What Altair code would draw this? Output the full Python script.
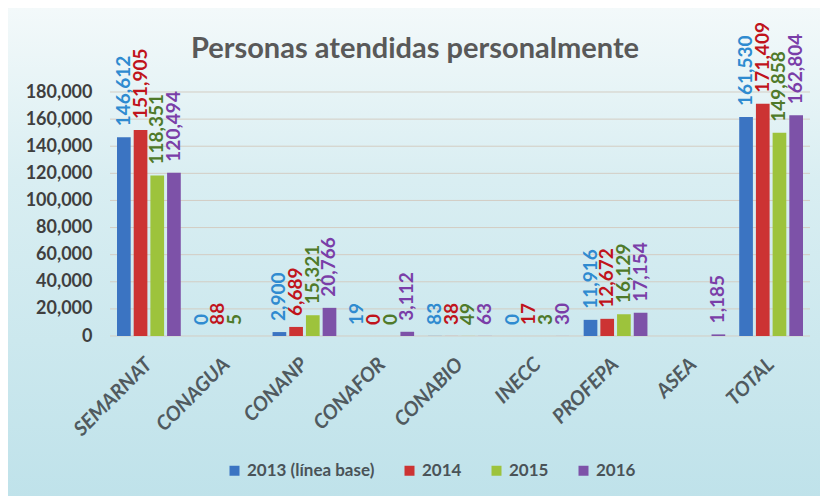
import altair as alt
import pandas as pd

categories = ["SEMARNAT", "CONAGUA", "CONANP", "CONAFOR", "CONABIO", "INECC", "PROFEPA", "ASEA", "TOTAL"]
series = ["2013 (línea base)", "2014", "2015", "2016"]
v2013 = [146612, 0, 2900, 19, 83, 0, 11916, None, 161530]
v2014 = [151905, 88, 6689, 0, 38, 17, 12672, None, 171409]
v2015 = [118351, 5, 15321, 0, 49, 3, 16129, None, 149858]
v2016 = [120494, None, 20766, 3112, 63, 30, 17154, 1185, 162804]
y_ticks = [0, 20000, 40000, 60000, 80000, 100000, 120000, 140000, 160000, 180000]

bar_colors = ["#3b74c2", "#cc3333", "#9dc33c", "#7d52a8"]
label_colors = ["#2f8bd0", "#c0141c", "#4f7a2a", "#7a3ea8"]

rows = []
for s, vals in zip(series, [v2013, v2014, v2015, v2016]):
    for c, v in zip(categories, vals):
        if v is not None:
            rows.append({"cat": c, "serie": s, "valor": v})
df = pd.DataFrame(rows)
grid_df = pd.DataFrame({"valor": y_ticks})

W, H = 700, 244
FONT = "Lato"

x = alt.X("cat:N", sort=categories, title=None,
          scale=alt.Scale(paddingInner=0.18, paddingOuter=0.09),
          axis=alt.Axis(labelAngle=-45, labelAlign="right", labelBaseline="middle",
                        labelFontSize=20, labelFontStyle="italic", labelFontWeight="bold",
                        labelColor="#505a5f", labelFont=FONT, domain=False, ticks=False,
                        labelPadding=25, zindex=1))
xo = alt.XOffset("serie:N", sort=series, scale=alt.Scale(paddingInner=0.18))
yscale = alt.Scale(domain=[0, 180000], nice=False)
yaxis = alt.Axis(values=y_ticks, format=",.0f", grid=False,
                 labelFontSize=18, labelFontWeight="bold", labelColor="#3f3f3f",
                 labelFont=FONT, domain=False, ticks=False, labelPadding=18,
                 zindex=1)
y = alt.Y("valor:Q", title=None, scale=yscale, axis=yaxis)

bg = alt.Chart(alt.Data(values=[{}])).mark_rect(
    color=alt.Gradient(gradient="linear", x1=0, x2=0, y1=0, y2=1,
                       stops=[alt.GradientStop(offset=0, color="#f3f9fa"),
                              alt.GradientStop(offset=0.35, color="#d9eef2"),
                              alt.GradientStop(offset=1, color="#bfe2ea")])
).encode(x=alt.value(-102), x2=alt.value(W + 10), y=alt.value(-84), y2=alt.value(H + 164))

grid = alt.Chart(grid_df).mark_rule(color="#d3cdc3", strokeWidth=1).encode(
    y=y, x=alt.value(0), x2=alt.value(W)
)

bars = alt.Chart(df).mark_bar().encode(
    x=x, xOffset=xo, y=y,
    color=alt.Color("serie:N", sort=series,
                    scale=alt.Scale(domain=series, range=bar_colors),
                    legend=alt.Legend(title=None, orient="none", direction="horizontal",
                                      legendX=116, legendY=370, symbolType="square",
                                      symbolSize=100, symbolStrokeWidth=0,
                                      labelFontSize=17, labelFontWeight="bold",
                                      labelColor="#4a5358", labelFont=FONT,
                                      columnPadding=26, labelOffset=4))
)

labels = alt.Chart(df).transform_calculate(
    etiqueta="format(datum.valor, ',')"
).mark_text(angle=270, align="left", baseline="middle", dx=11,
            fontSize=19, fontWeight="bold", font=FONT).encode(
    x=x, xOffset=xo, y=y,
    text="etiqueta:N",
    color=alt.Color("serie:N", sort=series,
                    scale=alt.Scale(domain=series, range=label_colors), legend=None)
)

chart = alt.layer(bg, grid, bars, labels).resolve_scale(color="independent").properties(
    width=W, height=H,
    autosize=alt.AutoSizeParams(type="none"),
    padding={"left": 102, "top": 84, "right": 10, "bottom": 160},
    title=alt.TitleParams("Personas atendidas personalmente", anchor="middle",
                          fontSize=29, fontWeight="bold", color="#595959", font=FONT,
                          dx=-45, dy=66, offset=10),
    background="#cfe8ee"
).configure_view(stroke=None)

chart.save("out.html", embed_options={"renderer": "svg", "actions": False})
